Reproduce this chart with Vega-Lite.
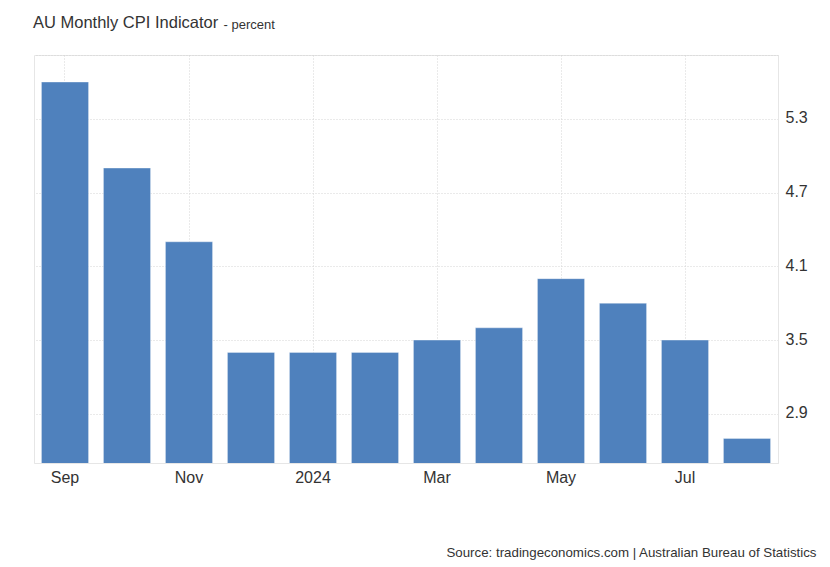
{
  "$schema": "https://vega.github.io/schema/vega-lite/v6.json",
  "width": 744,
  "height": 408,
  "autosize": {"type": "none"},
  "padding": {"left": 34, "top": 55, "right": 52, "bottom": 104},
  "background": "#ffffff",
  "config": {
    "font": "Liberation Sans",
    "view": {"stroke": "#e6e6e6", "strokeWidth": 1}
  },
  "title": {
    "text": "AU Monthly CPI Indicator",
    "anchor": "start",
    "frame": "group",
    "fontSize": 16.5,
    "fontWeight": "normal",
    "color": "#333333",
    "font": "Liberation Sans",
    "offset": 0,
    "dy": 13,
    "dx": -1
  },
  "data": {
    "values": [
      {"month": "2023-09", "value": 5.6},
      {"month": "2023-10", "value": 4.9},
      {"month": "2023-11", "value": 4.3},
      {"month": "2023-12", "value": 3.4},
      {"month": "2024-01", "value": 3.4},
      {"month": "2024-02", "value": 3.4},
      {"month": "2024-03", "value": 3.5},
      {"month": "2024-04", "value": 3.6},
      {"month": "2024-05", "value": 4.0},
      {"month": "2024-06", "value": 3.8},
      {"month": "2024-07", "value": 3.5},
      {"month": "2024-08", "value": 2.7}
    ]
  },
  "mark": {"type": "bar", "color": "#4f81bd", "clip": true, "stroke": "#ffffff", "strokeOpacity": 0.35, "strokeWidth": 1},
  "encoding": {
    "x": {
      "field": "month",
      "type": "ordinal",
      "sort": null,
      "scale": {"paddingInner": 0.24, "paddingOuter": 0.12},
      "axis": {
        "values": ["2023-09", "2023-11", "2024-01", "2024-03", "2024-05", "2024-07"],
        "labelExpr": "month(toDate(datum.value + '-01T00:00')) == 0 ? timeFormat(toDate(datum.value + '-01T00:00'), '%Y') : timeFormat(toDate(datum.value + '-01T00:00'), '%b')",
        "labelAngle": 0,
        "labelFontSize": 16,
        "labelColor": "#333333",
        "labelPadding": 6,
        "ticks": false,
        "domain": true,
        "domainColor": "#e6e6e6",
        "grid": true,
        "gridColor": "#d4d4d4",
        "gridDash": [1, 2],
        "title": "Source: tradingeconomics.com | Australian Bureau of Statistics",
        "titleFontSize": 13.3,
        "titleFontWeight": "normal",
        "titleColor": "#333333",
        "titleAlign": "right",
        "titleBaseline": "alphabetic",
        "titleAnchor": "end",
        "titleX": 782,
        "titleY": 93
      }
    },
    "y": {
      "field": "value",
      "type": "quantitative",
      "scale": {"domain": [2.5, 5.82], "zero": false, "nice": false},
      "axis": {
        "orient": "right",
        "values": [2.9, 3.5, 4.1, 4.7, 5.3, 5.82],
        "labelExpr": "datum.value > 5.5 ? '' : format(datum.value, '.1f')",
        "labelFontSize": 16,
        "labelColor": "#333333",
        "labelPadding": 7,
        "labelOffset": -1,
        "ticks": false,
        "domain": true,
        "domainColor": "#e6e6e6",
        "grid": true,
        "gridColor": "#d4d4d4",
        "gridDash": [1, 2],
        "title": "- percent",
        "titleAngle": 0,
        "titleFontSize": 13,
        "titleFontWeight": "normal",
        "titleColor": "#333333",
        "titleAlign": "left",
        "titleBaseline": "alphabetic",
        "titleX": -555,
        "titleY": -27
      }
    }
  }
}
